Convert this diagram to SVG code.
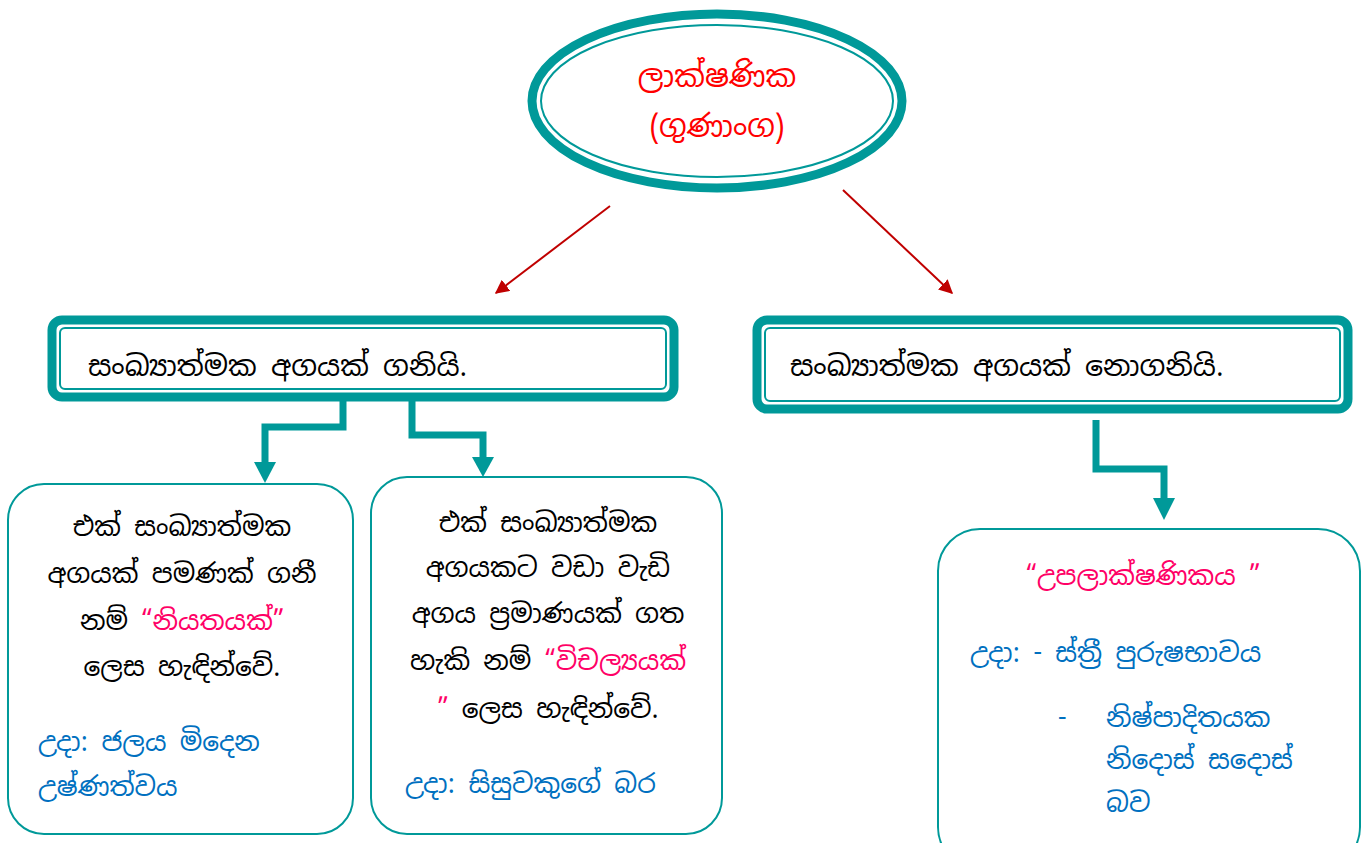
<svg xmlns="http://www.w3.org/2000/svg" width="1367" height="843" viewBox="0 0 1367 843">
<defs>
<style>
text{font-family:"Noto Sans Sinhala","Noto Serif Sinhala","Iskoola Pota","Noto Sans","DejaVu Sans",sans-serif;}
.blk{fill:#000;font-size:26.5px;}
.ttl{fill:#000;font-size:28.5px;}
.red{fill:#FF0000;font-size:30.5px;}
.pink{fill:#FF0066;}
.blue{fill:#0070C0;font-size:26.5px;}
.thick{fill:none;stroke:#009999;stroke-width:9;}
.thin{fill:none;stroke:#009999;stroke-width:2;}
.card{fill:#fff;stroke:#009999;stroke-width:2;}
.conn{fill:none;stroke:#009999;stroke-width:7;stroke-linejoin:miter;}
.rarrow{stroke:#C00000;stroke-width:2;fill:none;}
</style>
<marker id="redhead" viewBox="0 0 10 10" refX="9" refY="5" markerWidth="7" markerHeight="7" markerUnits="strokeWidth" orient="auto">
<path d="M0,0 L10,5 L0,10 z" fill="#C00000"/>
</marker>
</defs>
<rect width="1367" height="843" fill="#fff"/>

<g id="connectors">
<line class="rarrow" x1="610" y1="206" x2="496" y2="293" marker-end="url(#redhead)"/>
<line class="rarrow" x1="843" y1="190" x2="952" y2="293" marker-end="url(#redhead)"/>
<polyline class="conn" points="343,401 343,427 265,427 265,464"/>
<polygon points="254,462 276,462 265,483" fill="#009999"/>
<polyline class="conn" points="412,401 412,435 483,435 483,459"/>
<polygon points="472,457 494,457 483,477" fill="#009999"/>
<polyline class="conn" points="1096,420 1096,469 1164,469 1164,500"/>
<polygon points="1153,498 1175,498 1164,520" fill="#009999"/>
</g>

<g id="node-root">
<ellipse cx="717" cy="101" rx="185" ry="87" fill="#fff" class="thick" stroke-width="10"/>
<ellipse cx="717" cy="101" rx="176" ry="76" class="thin"/>
<text class="red" x="717" y="87" text-anchor="middle">ලාක්ෂණික</text>
<text class="red" x="717" y="137" text-anchor="middle">(ගුණාංග)</text>
</g>

<g id="node-takes">
<rect x="52" y="320" width="622" height="77" rx="10" fill="#fff" class="thick"/>
<rect x="60" y="328" width="606" height="61" rx="5" class="thin"/>
<text class="ttl" x="88" y="376">සංඛ්‍යාත්මක අගයක් ගනියි.</text>
</g>

<g id="node-nottakes">
<rect x="757" y="320" width="591" height="89" rx="10" fill="#fff" class="thick"/>
<rect x="765" y="328" width="575" height="73" rx="5" class="thin"/>
<text class="ttl" x="790" y="376">සංඛ්‍යාත්මක අගයක් නොගනියි.</text>
</g>

<g id="node-constant">
<rect class="card" x="8" y="484" width="345" height="350" rx="36"/>
<text class="blk" x="182" y="536" text-anchor="middle">එක් සංඛ්‍යාත්මක</text>
<text class="blk" x="182" y="583" text-anchor="middle">අගයක් පමණක් ගනී</text>
<text class="blk" x="182" y="630" text-anchor="middle">නම් <tspan class="pink">“නියතයක්”</tspan></text>
<text class="blk" x="182" y="676" text-anchor="middle">ලෙස හැඳින්වේ.</text>
<text class="blue" x="38" y="751">උදා: ජලය මිදෙන</text>
<text class="blue" x="38" y="796">උෂ්ණත්වය</text>
</g>

<g id="node-variable">
<rect class="card" x="371" y="477" width="351" height="357" rx="36"/>
<text class="blk" x="548" y="532" text-anchor="middle">එක් සංඛ්‍යාත්මක</text>
<text class="blk" x="548" y="577" text-anchor="middle">අගයකට වඩා වැඩි</text>
<text class="blk" x="548" y="623" text-anchor="middle">අගය ප්‍රමාණයක් ගත</text>
<text class="blk" x="548" y="670" text-anchor="middle">හැකි නම් <tspan class="pink">“විචල්‍යයක්</tspan></text>
<text class="blk" x="548" y="718" text-anchor="middle"><tspan class="pink">”</tspan> ලෙස හැඳින්වේ.</text>
<text class="blue" x="405" y="793">උදා: සිසුවකුගේ බර</text>
</g>

<g id="node-attribute">
<rect class="card" x="938" y="529" width="422" height="340" rx="42"/>
<text class="pink" x="1143" y="585" text-anchor="middle" font-size="26.5">“උපලාක්ෂණිකය ”</text>
<text class="blue" x="970" y="662">උදා: - ස්ත්‍රී පුරුෂභාවය</text>
<text class="blue" x="1058" y="727">-</text>
<text class="blue" x="1106" y="727">නිෂ්පාදිතයක</text>
<text class="blue" x="1106" y="769">නිදොස් සදොස්</text>
<text class="blue" x="1106" y="812">බව</text>
</g>
</svg>
